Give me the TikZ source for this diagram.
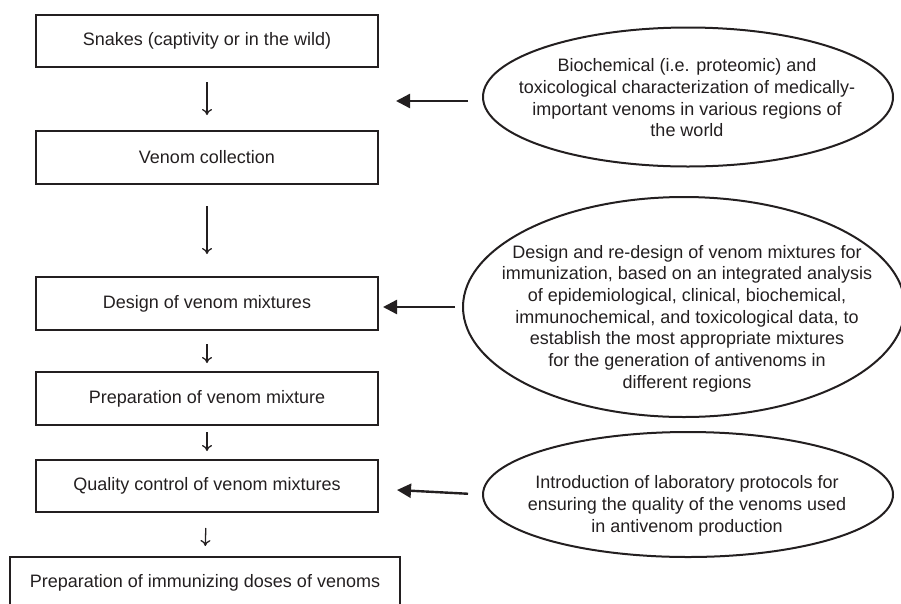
\documentclass[tikz,border=0pt]{standalone}
\usepackage{fontspec}
\setmainfont{Liberation Sans}
\usetikzlibrary{shapes.geometric,arrows.meta}
\definecolor{ink}{HTML}{231F20}
\tikzset{
  stepbox/.style={draw=ink, line width=2pt, minimum width=342pt, minimum height=52pt, inner sep=0pt, text=ink, font=\fontsize{18}{21.7}\selectfont},
  oval/.style={draw=ink, line width=2pt, ellipse, inner sep=0pt},
  ovaltext/.style={align=center, text=ink, inner sep=0pt, font=\fontsize{18}{21.7}\selectfont},
  thinarrow/.style={draw=ink, line width=1.3pt, -{To[length=6pt,width=10pt,line width=1.3pt]}},
  bigarrow/.style={draw=ink, line width=2.4pt, -{Triangle[length=14pt,width=14pt]}}
}
\begin{document}
\begin{tikzpicture}[x=1pt,y=-1pt]
\useasboundingbox (0,0) rectangle (901,603);
\begin{scope}
\clip (0,0) rectangle (901,603);
% boxes
\node[stepbox] (b1) at (207,41) {Snakes (captivity or in the wild)};
\node[stepbox, minimum height=53pt] (b2) at (207,157.5) {Venom collection};
\node[stepbox, minimum height=53pt] (b3) at (207,303.5) {Design of venom mixtures};
\node[stepbox, minimum height=53pt] (b4) at (207,398.5) {Preparation of venom mixture};
\node[stepbox] (b5) at (207,486) {Quality control of venom mixtures};
\node[stepbox, minimum width=390pt] (b6) at (205,583) {Preparation of immunizing doses of venoms};
% ellipses
\node[oval, minimum width=410pt, minimum height=139pt] (e1) at (688,97) {};
\node[oval, minimum width=442pt, minimum height=220pt] (e2) at (684,307) {};
\node[oval, minimum width=410pt, minimum height=125pt] (e3) at (688,494.5) {};
\node[ovaltext] (t1) at (687,98) {Biochemical (i.e. proteomic) and\\toxicological characterization of medically-\\important venoms in various regions of\\the world};
\node[ovaltext] (t2) at (687,318.5) {Design and re-design of venom mixtures for\\immunization, based on an integrated analysis\\of epidemiological, clinical, biochemical,\\immunochemical, and toxicological data, to\\establish the most appropriate mixtures\\for the generation of antivenoms in\\different regions};
\node[ovaltext] (t3) at (687,506) {Introduction of laboratory protocols for\\ensuring the quality of the venoms used\\in antivenom production};
% thin arrows
\draw[thinarrow, shorten <=14pt, shorten >=15pt] (b1) -- (b2);
\draw[thinarrow, shorten <=21pt, shorten >=22pt] (b2) -- (b3);
\draw[thinarrow, shorten <=13pt, shorten >=8pt] (b3) -- (b4);
\draw[thinarrow, shorten <=6pt, shorten >=8pt] (b4) -- (b5);
\draw[thinarrow, shorten <=15pt, shorten >=10pt] (b5) -- (b6.north);
% thick arrows
\coordinate (tA) at (396,101);
\coordinate (tC) at (397,490);
\draw[bigarrow, shorten <=14pt] (e1.west |- tA) -- (tA);
\draw[bigarrow, shorten <=7pt, shorten >=4pt] (e2.west) -- (b3.east |- e2.west);
\draw[bigarrow, shorten <=14pt] (e3.west) -- (tC);
\end{scope}
\end{tikzpicture}
\end{document}
